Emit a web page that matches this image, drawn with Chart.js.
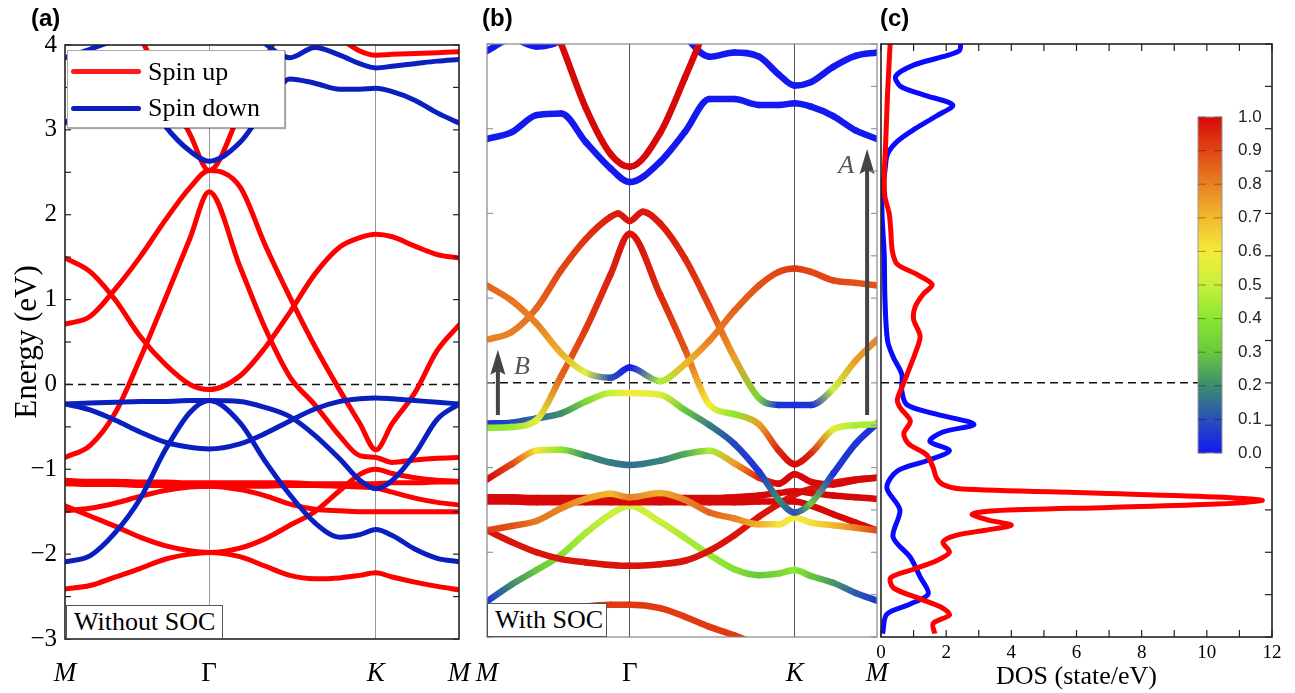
<!DOCTYPE html>
<html>
<head>
<meta charset="utf-8">
<title>Band structure and DOS</title>
<script src="https://cdn.jsdelivr.net/npm/chart.js@4.4.1/dist/chart.umd.min.js"></script>
<style>
  html, body { margin: 0; padding: 0; background: #fff; }
  #wrap { position: relative; width: 1295px; height: 693px; overflow: hidden; font-family: "Liberation Serif", "Times New Roman", serif; }
  canvas { position: absolute; top: 0; }
  #cvA { left: 0; }
  #cvB { left: 455px; }
  #cvC { left: 870px; }
  .panel { position: absolute; top: 4px; font: bold 24px "Liberation Sans", Arial, sans-serif; line-height: 28px; }
  .inset { position: absolute; background: #fff; border: 1px solid #555; box-sizing: border-box; font-size: 26px; line-height: 32px; padding-left: 7px; }
  #legend { position: absolute; left: 67px; top: 50px; width: 218px; height: 78px; background: #fff; border: 1px solid #aaa; box-shadow: 1px 1px 1px rgba(0,0,0,0.35); box-sizing: border-box; font-size: 26px; }
  #legend .sw { position: absolute; left: 3px; width: 70px; height: 5px; border-radius: 3px; }
  #legend .tx { position: absolute; left: 80px; line-height: 30px; }
</style>
</head>
<body>
<div id="wrap">
  <canvas id="cvA" width="485" height="693"></canvas>
  <canvas id="cvB" width="440" height="693"></canvas>
  <canvas id="cvC" width="425" height="693"></canvas>
  <div class="panel" style="left:31px">(a)</div>
  <div class="panel" style="left:482px">(b)</div>
  <div class="panel" style="left:880px">(c)</div>
  <div id="legend">
    <div class="sw" style="top:18px;background:#ff1a1a"></div><div class="tx" style="top:6px">Spin up</div>
    <div class="sw" style="top:55px;background:#0a1fc0"></div><div class="tx" style="top:42px">Spin down</div>
  </div>
  <div class="inset" style="left:66px;top:605px;width:157px;height:34px">Without SOC</div>
  <div class="inset" style="left:487px;top:603px;width:120px;height:34px">With SOC</div>
</div>
<script>
const SERIF = '"Liberation Serif", "Times New Roman", serif';
const SANS = '"Liberation Sans", Arial, sans-serif';

// k path M - Gamma - K - M
const kPath = [0, 0.1, 0.2, 0.3, 0.4, 0.5, 0.577, 0.7, 0.8, 0.9, 1.0, 1.1, 1.18, 1.244, 1.31, 1.4, 1.49, 1.577];
const kTicks = [0, 0.577, 1.244, 1.577];
const kNames = ['M', 'Γ', 'K', 'M'];

// (a) without SOC, spin up
const upR1 = [0.71, 0.8, 1.12, 1.5, 1.93, 2.32, 2.52, 2.33, 1.65, 1.03, 0.45, -0.07, -0.46, -0.77, -0.46, -0.1, 0.4, 0.7];
const upR2 = [1.49, 1.33, 1.0, 0.57, 0.24, 0.0, -0.06, 0.1, 0.43, 0.85, 1.3, 1.62, 1.73, 1.77, 1.74, 1.63, 1.53, 1.49];
const upR3 = [-0.86, -0.72, -0.34, 0.3, 1.0, 1.72, 2.27, 1.39, 0.67, 0.09, -0.24, -0.61, -0.84, -0.86, -0.92, -0.89, -0.87, -0.86];
const upR4 = [-1.13, -1.14, -1.14, -1.15, -1.15, -1.16, -1.16, -1.16, -1.16, -1.16, -1.17, -1.17, -1.17, -1.17, -1.16, -1.16, -1.15, -1.15];
const upR5 = [-1.17, -1.18, -1.18, -1.19, -1.19, -1.2, -1.2, -1.2, -1.2, -1.19, -1.19, -1.2, -1.21, -1.22, -1.27, -1.34, -1.39, -1.42];
const upR6 = [-1.49, -1.46, -1.4, -1.32, -1.25, -1.21, -1.2, -1.24, -1.31, -1.41, -1.47, -1.49, -1.5, -1.5, -1.5, -1.5, -1.5, -1.5];
const upR7 = [-1.43, -1.55, -1.67, -1.8, -1.9, -1.96, -1.98, -1.93, -1.82, -1.66, -1.5, -1.25, -1.06, -1.0, -1.05, -1.1, -1.13, -1.14];
const upR8 = [-2.41, -2.37, -2.27, -2.17, -2.06, -2.0, -1.98, -2.03, -2.14, -2.25, -2.29, -2.28, -2.25, -2.22, -2.27, -2.33, -2.38, -2.42];
const upR9 = [null, null, null, 4.1, 3.52, 2.95, 2.52, 3.2, 3.82, 4.4, null, null, null, null, null, null, null, null];
const upR10 = [null, null, null, null, null, null, null, null, null, null, 4.3, 4.08, 3.93, 3.88, 3.89, 3.9, 3.91, 3.92];
// (a) spin down
const dnB1 = [-0.23, -0.22, -0.21, -0.2, -0.2, -0.19, -0.19, -0.2, -0.27, -0.38, -0.6, -0.88, -1.13, -1.23, -1.13, -0.82, -0.41, -0.23];
const dnB2 = [-2.09, -2.02, -1.75, -1.35, -0.78, -0.33, -0.19, -0.45, -0.9, -1.3, -1.63, -1.8, -1.77, -1.71, -1.78, -1.94, -2.05, -2.09];
const dnB3 = [-0.23, -0.3, -0.42, -0.56, -0.68, -0.74, -0.76, -0.7, -0.58, -0.43, -0.29, -0.2, -0.17, -0.16, -0.17, -0.19, -0.21, -0.23];
const dnB4 = [3.08, 3.3, 3.5, 3.5, 3.05, 2.75, 2.63, 2.85, 3.25, 3.6, 3.55, 3.48, 3.48, 3.49, 3.45, 3.35, 3.2, 3.08];
const dnB5 = [3.85, 3.95, 4.05, 4.1, 4.3, 4.5, 4.6, 4.3, 4.02, 3.85, 3.97, 3.88, 3.78, 3.73, 3.75, 3.78, 3.81, 3.83];

// (b) with SOC: energies and spin-up weight
const kDouble = [0, 0.1, 0.2, 0.3, 0.4, 0.5, 0.53, 0.577, 0.63, 0.7, 0.8, 0.9, 1.0, 1.1, 1.18, 1.244, 1.31, 1.4, 1.49, 1.577];
const socRb1 = [6.0, 5.4, 4.7, 4.0, 3.24, 2.7, 2.55, 2.95, 3.6, 4.3, 5.0, null, null, null, null, null, null, null];
const socBb1 = [2.88, 2.96, 3.16, 3.18, 2.84, 2.53, 2.37, 2.61, 2.96, 3.35, 3.35, 3.28, 3.28, 3.3, 3.26, 3.15, 2.98, 2.88];
const socBb2 = [3.92, 4.06, 3.97, 4.05, 4.4, 4.7, 4.8, 4.5, 4.1, 3.85, 3.9, 3.85, 3.64, 3.51, 3.55, 3.73, 3.86, 3.9];
const socP = [1.15, 0.97, 0.7, 0.35, 0.12, 0.06, 0.18, 0.02, 0.22, 0.5, 0.85, 1.15, 1.31, 1.35, 1.31, 1.21, 1.18, 1.15];
const wP = [0.85, 0.82, 0.8, 0.72, 0.55, 0.1, 0.0, 0.45, 0.7, 0.8, 0.85, 0.88, 0.9, 0.92, 0.9, 0.9, 0.88, 0.88];
const socQ = [0.51, 0.6, 0.88, 1.33, 1.7, 1.96, 2.0, 1.91, 2.02, 1.88, 1.47, 0.9, 0.3, -0.18, -0.26, -0.26, -0.26, -0.07, 0.26, 0.51];
const wQ = [0.8, 0.8, 0.85, 0.9, 0.93, 0.96, 0.97, 0.98, 0.97, 0.97, 0.95, 0.9, 0.75, 0.35, 0.05, 0.04, 0.05, 0.5, 0.75, 0.8];
const socS = [-0.53, -0.52, -0.44, 0.08, 0.64, 1.28, 1.76, 1.04, 0.4, -0.26, -0.37, -0.49, -0.8, -0.96, -0.83, -0.55, -0.5, -0.49];
const wS = [0.4, 0.42, 0.55, 0.85, 0.92, 0.96, 0.98, 0.95, 0.88, 0.6, 0.4, 0.75, 0.95, 1.0, 0.95, 0.55, 0.45, 0.45];
const socT = [-0.48, -0.47, -0.42, -0.36, -0.22, -0.12, -0.12, -0.14, -0.32, -0.5, -0.72, -1.05, -1.38, -1.53, -1.42, -1.07, -0.72, -0.48];
const wT = [0.05, 0.08, 0.15, 0.2, 0.35, 0.5, 0.6, 0.55, 0.3, 0.18, 0.08, 0.05, 0.2, 0.1, 0.3, 0.05, 0.05, 0.05];
const socU = [-1.14, -0.96, -0.8, -0.79, -0.86, -0.94, -0.97, -0.92, -0.84, -0.8, -0.95, -1.12, -1.19, -1.08, -1.17, -1.2, -1.15, -1.12];
const wU = [1.0, 0.9, 0.62, 0.4, 0.2, 0.17, 0.15, 0.18, 0.25, 0.45, 0.75, 0.95, 1.0, 1.0, 1.0, 1.0, 1.0, 1.0];
const socF1 = [-1.35, -1.35, -1.36, -1.36, -1.36, -1.36, -1.36, -1.36, -1.36, -1.36, -1.35, -1.33, -1.3, -1.28, -1.3, -1.33, -1.35, -1.37];
const socF2 = [-1.4, -1.4, -1.41, -1.41, -1.41, -1.41, -1.41, -1.41, -1.41, -1.41, -1.41, -1.4, -1.4, -1.4, -1.45, -1.55, -1.65, -1.74];
const socO = [-1.74, -1.69, -1.63, -1.48, -1.37, -1.31, -1.35, -1.3, -1.38, -1.53, -1.6, -1.67, -1.67, -1.59, -1.65, -1.68, -1.71, -1.74];
const wO = [0.92, 0.88, 0.82, 0.8, 0.75, 0.7, 0.8, 0.72, 0.8, 0.85, 0.8, 0.72, 0.62, 0.6, 0.62, 0.7, 0.8, 0.9];
const socW = [-1.74, -1.88, -2.0, -2.08, -2.12, -2.15, -2.16, -2.14, -2.1, -1.98, -1.8, -1.58, -1.43, -1.32, -1.25, -1.18, -1.14, -1.12];
const socV = [-2.58, -2.38, -2.21, -2.03, -1.77, -1.55, -1.45, -1.64, -1.83, -2.03, -2.2, -2.27, -2.25, -2.21, -2.28, -2.36, -2.48, -2.57];
const wV = [0.05, 0.2, 0.3, 0.38, 0.45, 0.5, 0.52, 0.5, 0.45, 0.42, 0.38, 0.3, 0.35, 0.4, 0.3, 0.22, 0.12, 0.05];
const socX = [-3.05, -2.97, -2.8, -2.7, -2.64, -2.62, -2.62, -2.66, -2.76, -2.88, -2.98, -3.1, -3.2, -3.3, null, null, null, null];

// arrows in (b)
const arrowNames = ['A', 'B'];
const arrowK = [1.537, 0.044];
const arrowFrom = [-0.38, -0.38];
const arrowTo = [2.76, 0.39];

// (c) DOS
const dosUpE = [4.0, 3.4, 2.8, 2.45, 2.2, 2.0, 1.8, 1.55, 1.4, 1.28, 1.16, 1.05, 0.9, 0.75, 0.55, 0.35, 0.15, 0.0, -0.2, -0.3, -0.45, -0.6, -0.72, -0.85, -1.0, -1.12, -1.2, -1.25, -1.3, -1.35, -1.39, -1.43, -1.47, -1.51, -1.55, -1.62, -1.68, -1.74, -1.8, -1.88, -2.0, -2.1, -2.2, -2.3, -2.42, -2.55, -2.66, -2.74, -2.84, -2.96];
const dosUp = [0.28, 0.2, 0.14, 0.1, 0.12, 0.25, 0.3, 0.35, 0.5, 1.1, 1.57, 1.3, 1.05, 1.0, 1.2, 1.05, 0.85, 0.7, 0.5, 0.6, 0.9, 0.7, 0.85, 1.4, 1.6, 1.7, 1.9, 2.4, 6.5, 10.5, 11.7, 10.3, 7.0, 3.5, 2.8, 3.3, 4.0, 3.2, 2.3, 1.9, 2.1, 1.7, 1.0, 0.3, 0.38, 1.2, 1.9, 2.1, 1.6, 1.65];
const dosDnE = [4.0, 3.92, 3.85, 3.75, 3.62, 3.5, 3.4, 3.28, 3.15, 3.0, 2.85, 2.7, 2.5, 2.25, 2.0, 1.5, 1.0, 0.5, 0.3, 0.1, -0.1, -0.26, -0.37, -0.49, -0.58, -0.69, -0.8, -0.92, -1.04, -1.24, -1.5, -1.82, -2.06, -2.29, -2.49, -2.61, -2.73, -2.96];
const dosDn = [2.45, 2.4, 1.9, 1.0, 0.45, 0.6, 1.3, 2.2, 1.7, 1.05, 0.5, 0.2, 0.12, 0.04, 0.03, 0.1, 0.12, 0.2, 0.38, 0.64, 0.64, 0.8, 1.7, 2.85, 1.9, 1.5, 2.1, 1.4, 0.5, 0.18, 0.58, 0.37, 0.9, 1.2, 1.45, 0.9, 0.18, 0.05];
const cbTicks = [0.0, 0.1, 0.2, 0.3, 0.4, 0.5, 0.6, 0.7, 0.8, 0.9, 1.0];

// colour map for the spin weight
const cmapStops = [
  [0.0, [20, 25, 240]], [0.1, [40, 80, 185]], [0.2, [60, 140, 110]], [0.3, [105, 200, 60]],
  [0.4, [140, 230, 50]], [0.5, [200, 240, 60]], [0.6, [245, 235, 60]], [0.7, [240, 185, 45]],
  [0.8, [232, 130, 35]], [0.9, [225, 70, 20]], [1.0, [215, 8, 8]]
];
function spinColor(w) {
  w = Math.max(0, Math.min(1, w));
  for (let i = 1; i < cmapStops.length; i++) {
    const [v0, c0] = cmapStops[i - 1];
    const [v1, c1] = cmapStops[i];
    if (w <= v1 + 1e-9) {
      const t = (w - v0) / (v1 - v0);
      const c = c0.map((a, j) => Math.round(a + (c1[j] - a) * t));
      return `rgb(${c[0]},${c[1]},${c[2]})`;
    }
  }
  return 'rgb(215,8,8)';
}

function kBand(energies, color, width) {
  return {
    data: kPath.map((k, i) => ({ x: k, y: energies[i] })),
    showLine: true, pointRadius: 0, borderColor: color, borderWidth: width,
    cubicInterpolationMode: 'monotone', borderCapStyle: 'round', clip: 0
  };
}

const ctxB = document.getElementById('cvB').getContext('2d');
function socBand(energies, weights, ks) {
  ks = ks || kPath;
  const wAt = i => (typeof weights === 'number' ? weights : weights[i]);
  return {
    data: ks.map((k, i) => ({ x: k, y: energies[i] })),
    showLine: true, pointRadius: 0, borderWidth: 6.5, borderCapStyle: 'round', borderJoinStyle: 'round',
    cubicInterpolationMode: 'monotone', clip: 0,
    borderColor: spinColor(wAt(0)),
    segment: {
      borderColor: s => {
        const g = ctxB.createLinearGradient(s.p0.x, s.p0.y, s.p1.x, s.p1.y);
        g.addColorStop(0, spinColor(wAt(s.p0DataIndex)));
        g.addColorStop(1, spinColor(wAt(s.p1DataIndex)));
        return g;
      },
      borderDashOffset: s => s.p0DataIndex
    }
  };
}

function zeroLine(xEnd) {
  return {
    data: [{ x: 0, y: 0 }, { x: xEnd, y: 0 }],
    showLine: true, pointRadius: 0, borderColor: '#111', borderWidth: 1.5, borderDash: [8, 5], clip: 0
  };
}

// painting order: first item at the bottom
function ordered(list) {
  return list.map((d, i) => Object.assign(d, { order: list.length - i }));
}

// labels pushed down with the line height so the tick padding stays zero
function kAxis(height, lineH, gridColor) {
  return {
    type: 'linear', min: 0, max: 1.577,
    afterBuildTicks: s => { s.ticks = kTicks.map(v => ({ value: v })); },
    afterFit: s => { s.height = height; },
    ticks: {
      autoSkip: false, maxRotation: 0, padding: 0, color: '#000',
      callback: (v, i) => kNames[i],
      font: c => ({ family: SERIF, size: 27, lineHeight: lineH + 'px', style: c.index === 1 ? 'normal' : 'italic' })
    },
    grid: { drawTicks: false, lineWidth: 1, color: c => (c.index === 1 || c.index === 2) ? gridColor : 'rgba(0,0,0,0)' },
    border: { display: false }
  };
}

function framePlugin(o) {
  return {
    id: 'frame',
    afterDraw(chart) {
      const { ctx, chartArea: a } = chart;
      const xs = chart.scales.x, ys = chart.scales.y;
      const mark = (x1, y1, x2, y2) => { ctx.beginPath(); ctx.moveTo(x1, y1); ctx.lineTo(x2, y2); ctx.stroke(); };
      ctx.save();
      ctx.lineWidth = 1.2;
      ctx.strokeStyle = o.tickColor;
      if (o.leftStep) for (let v = ys.min; v <= ys.max + 1e-9; v += o.leftStep) { const y = ys.getPixelForValue(v); mark(a.left, y, a.left + o.len, y); }
      if (o.rightStep) for (let v = ys.min; v <= ys.max + 1e-9; v += o.rightStep) { const y = ys.getPixelForValue(v); mark(a.right - o.len, y, a.right, y); }
      if (o.xStep) for (let v = xs.min; v <= xs.max + 1e-9; v += o.xStep) {
        const x = xs.getPixelForValue(v);
        mark(x, a.top, x, a.top + o.len);
        mark(x, a.bottom - o.len, x, a.bottom);
      }
      ctx.lineWidth = o.width;
      ctx.strokeStyle = o.color;
      ctx.strokeRect(a.left, a.top, a.right - a.left, a.bottom - a.top);
      ctx.restore();
    }
  };
}

const common = {
  responsive: false, animation: false, events: [],
  plugins: { legend: { display: false }, tooltip: { enabled: false } }
};

// ---------- (a) ----------
new Chart(document.getElementById('cvA'), {
  type: 'scatter',
  data: {
    datasets: ordered([
      zeroLine(1.577),
      ...[upR1, upR2, upR3, upR4, upR5, upR6, upR7, upR8, upR9, upR10].map(b => kBand(b, '#ff0000', 5)),
      ...[dnB1, dnB2, dnB3, dnB4, dnB5].map(b => kBand(b, '#0a1fc0', 5))
    ])
  },
  options: Object.assign({}, common, {
    layout: { padding: { left: 0, top: 45, right: 26, bottom: 0 } },
    scales: {
      x: kAxis(54, 70, '#999'),
      y: {
        type: 'linear', min: -3, max: 4,
        afterFit: s => { s.width = 65; },
        ticks: {
          stepSize: 1, padding: 8, color: '#000', font: { family: SERIF, size: 25 },
          callback: v => (v < 0 ? '\u2212' + (-v) : String(v))
        },
        grid: { display: false, drawTicks: false },
        border: { display: false },
        title: { display: true, text: 'Energy (eV)', color: '#000', font: { family: SERIF, size: 31 }, padding: { top: 9, bottom: 0 } }
      }
    }
  }),
  plugins: [framePlugin({ color: '#222', width: 1.6, tickColor: '#222', len: 6, leftStep: 0.5, rightStep: 0.5 })]
});

// ---------- (b) ----------
const arrowPlugin = {
  id: 'arrows',
  afterDatasetsDraw(chart) {
    const { ctx } = chart;
    const xs = chart.scales.x, ys = chart.scales.y;
    ctx.save();
    arrowNames.forEach((name, i) => {
      const x = xs.getPixelForValue(arrowK[i]);
      const y0 = ys.getPixelForValue(arrowFrom[i]);
      const y1 = ys.getPixelForValue(arrowTo[i]);
      ctx.strokeStyle = '#444';
      ctx.fillStyle = '#444';
      ctx.lineWidth = 4;
      ctx.beginPath(); ctx.moveTo(x, y0); ctx.lineTo(x, y1 + 20); ctx.stroke();
      ctx.beginPath(); ctx.moveTo(x, y1); ctx.lineTo(x - 7.5, y1 + 25); ctx.lineTo(x, y1 + 21); ctx.lineTo(x + 7.5, y1 + 25); ctx.closePath(); ctx.fill();
      ctx.font = 'italic 26px ' + SERIF;
      ctx.fillStyle = '#555';
      ctx.textAlign = 'center';
      ctx.textBaseline = 'middle';
      ctx.fillText(name, x + (i === 0 ? -21 : 24), y1 + 17);
    });
    ctx.restore();
  }
};

new Chart(ctxB, {
  type: 'scatter',
  data: {
    datasets: ordered([
      zeroLine(1.508),
      socBand(socX, 0.92),
      socBand(socV, wV),
      socBand(socW, 0.98),
      socBand(socF1, 1),
      socBand(socF2, 1),
      socBand(socO, wO),
      socBand(socU, wU),
      socBand(socT, wT),
      socBand(socS, wS),
      socBand(socQ, wQ, kDouble),
      socBand(socP, wP),
      socBand(socBb1, 0),
      socBand(socBb2, 0),
      socBand(socRb1, 1)
    ])
  },
  options: Object.assign({}, common, {
    layout: { padding: { left: 32, top: 44, right: 18, bottom: 0 } },
    scales: {
      x: kAxis(56, 74, '#555'),
      y: { type: 'linear', min: -3, max: 4, display: false }
    }
  }),
  plugins: [arrowPlugin, framePlugin({ color: '#888', width: 1.2, tickColor: '#999', len: 6, leftStep: 1, rightStep: 0.5 })]
});

// ---------- (c) ----------
const colorbarPlugin = {
  id: 'colorbar',
  afterDraw(chart) {
    const { ctx } = chart;
    const x0 = 328, x1 = 352, yTop = 117, yBot = 453;
    ctx.save();
    const g = ctx.createLinearGradient(0, yBot, 0, yTop);
    cmapStops.forEach(([v]) => g.addColorStop(v, spinColor(v)));
    ctx.fillStyle = g;
    ctx.fillRect(x0, yTop, x1 - x0, yBot - yTop);
    ctx.strokeStyle = '#999';
    ctx.lineWidth = 1;
    ctx.strokeRect(x0, yTop, x1 - x0, yBot - yTop);
    ctx.font = '17px ' + SANS;
    ctx.textAlign = 'left';
    ctx.textBaseline = 'middle';
    cbTicks.forEach(v => {
      const y = yBot - v * (yBot - yTop);
      ctx.strokeStyle = 'rgba(0,0,0,0.35)';
      ctx.beginPath(); ctx.moveTo(x0, y); ctx.lineTo(x0 + 8, y); ctx.moveTo(x1 - 8, y); ctx.lineTo(x1, y); ctx.stroke();
      ctx.fillStyle = '#222';
      ctx.fillText(v.toFixed(1), 368, y);
    });
    ctx.restore();
  }
};

new Chart(document.getElementById('cvC'), {
  type: 'scatter',
  data: {
    datasets: ordered([
      zeroLine(9.74),
      { data: dosDnE.map((e, i) => ({ x: dosDn[i], y: e })), showLine: true, pointRadius: 0, borderColor: '#0a0aff', borderWidth: 5, tension: 0.3, clip: 0 },
      { data: dosUpE.map((e, i) => ({ x: dosUp[i], y: e })), showLine: true, pointRadius: 0, borderColor: '#ff0000', borderWidth: 5, tension: 0.3, clip: 0 }
    ])
  },
  options: Object.assign({}, common, {
    layout: { padding: { left: 11, top: 44, right: 23, bottom: 0 } },
    scales: {
      x: {
        type: 'linear', min: 0, max: 12,
        afterFit: s => { s.height = 56; },
        ticks: { stepSize: 2, padding: 5, color: '#000', font: { family: SERIF, size: 19 }, maxRotation: 0 },
        grid: { display: false, drawTicks: false },
        border: { display: false },
        title: { display: true, text: 'DOS (state/eV)', color: '#000', font: { family: SERIF, size: 26 }, padding: { top: 0, bottom: 0 } }
      },
      y: { type: 'linear', min: -3, max: 4, display: false }
    }
  }),
  plugins: [framePlugin({ color: '#222', width: 1.6, tickColor: '#222', len: 7, rightStep: 0.5, xStep: 1 }), colorbarPlugin]
});
</script>
</body>
</html>
